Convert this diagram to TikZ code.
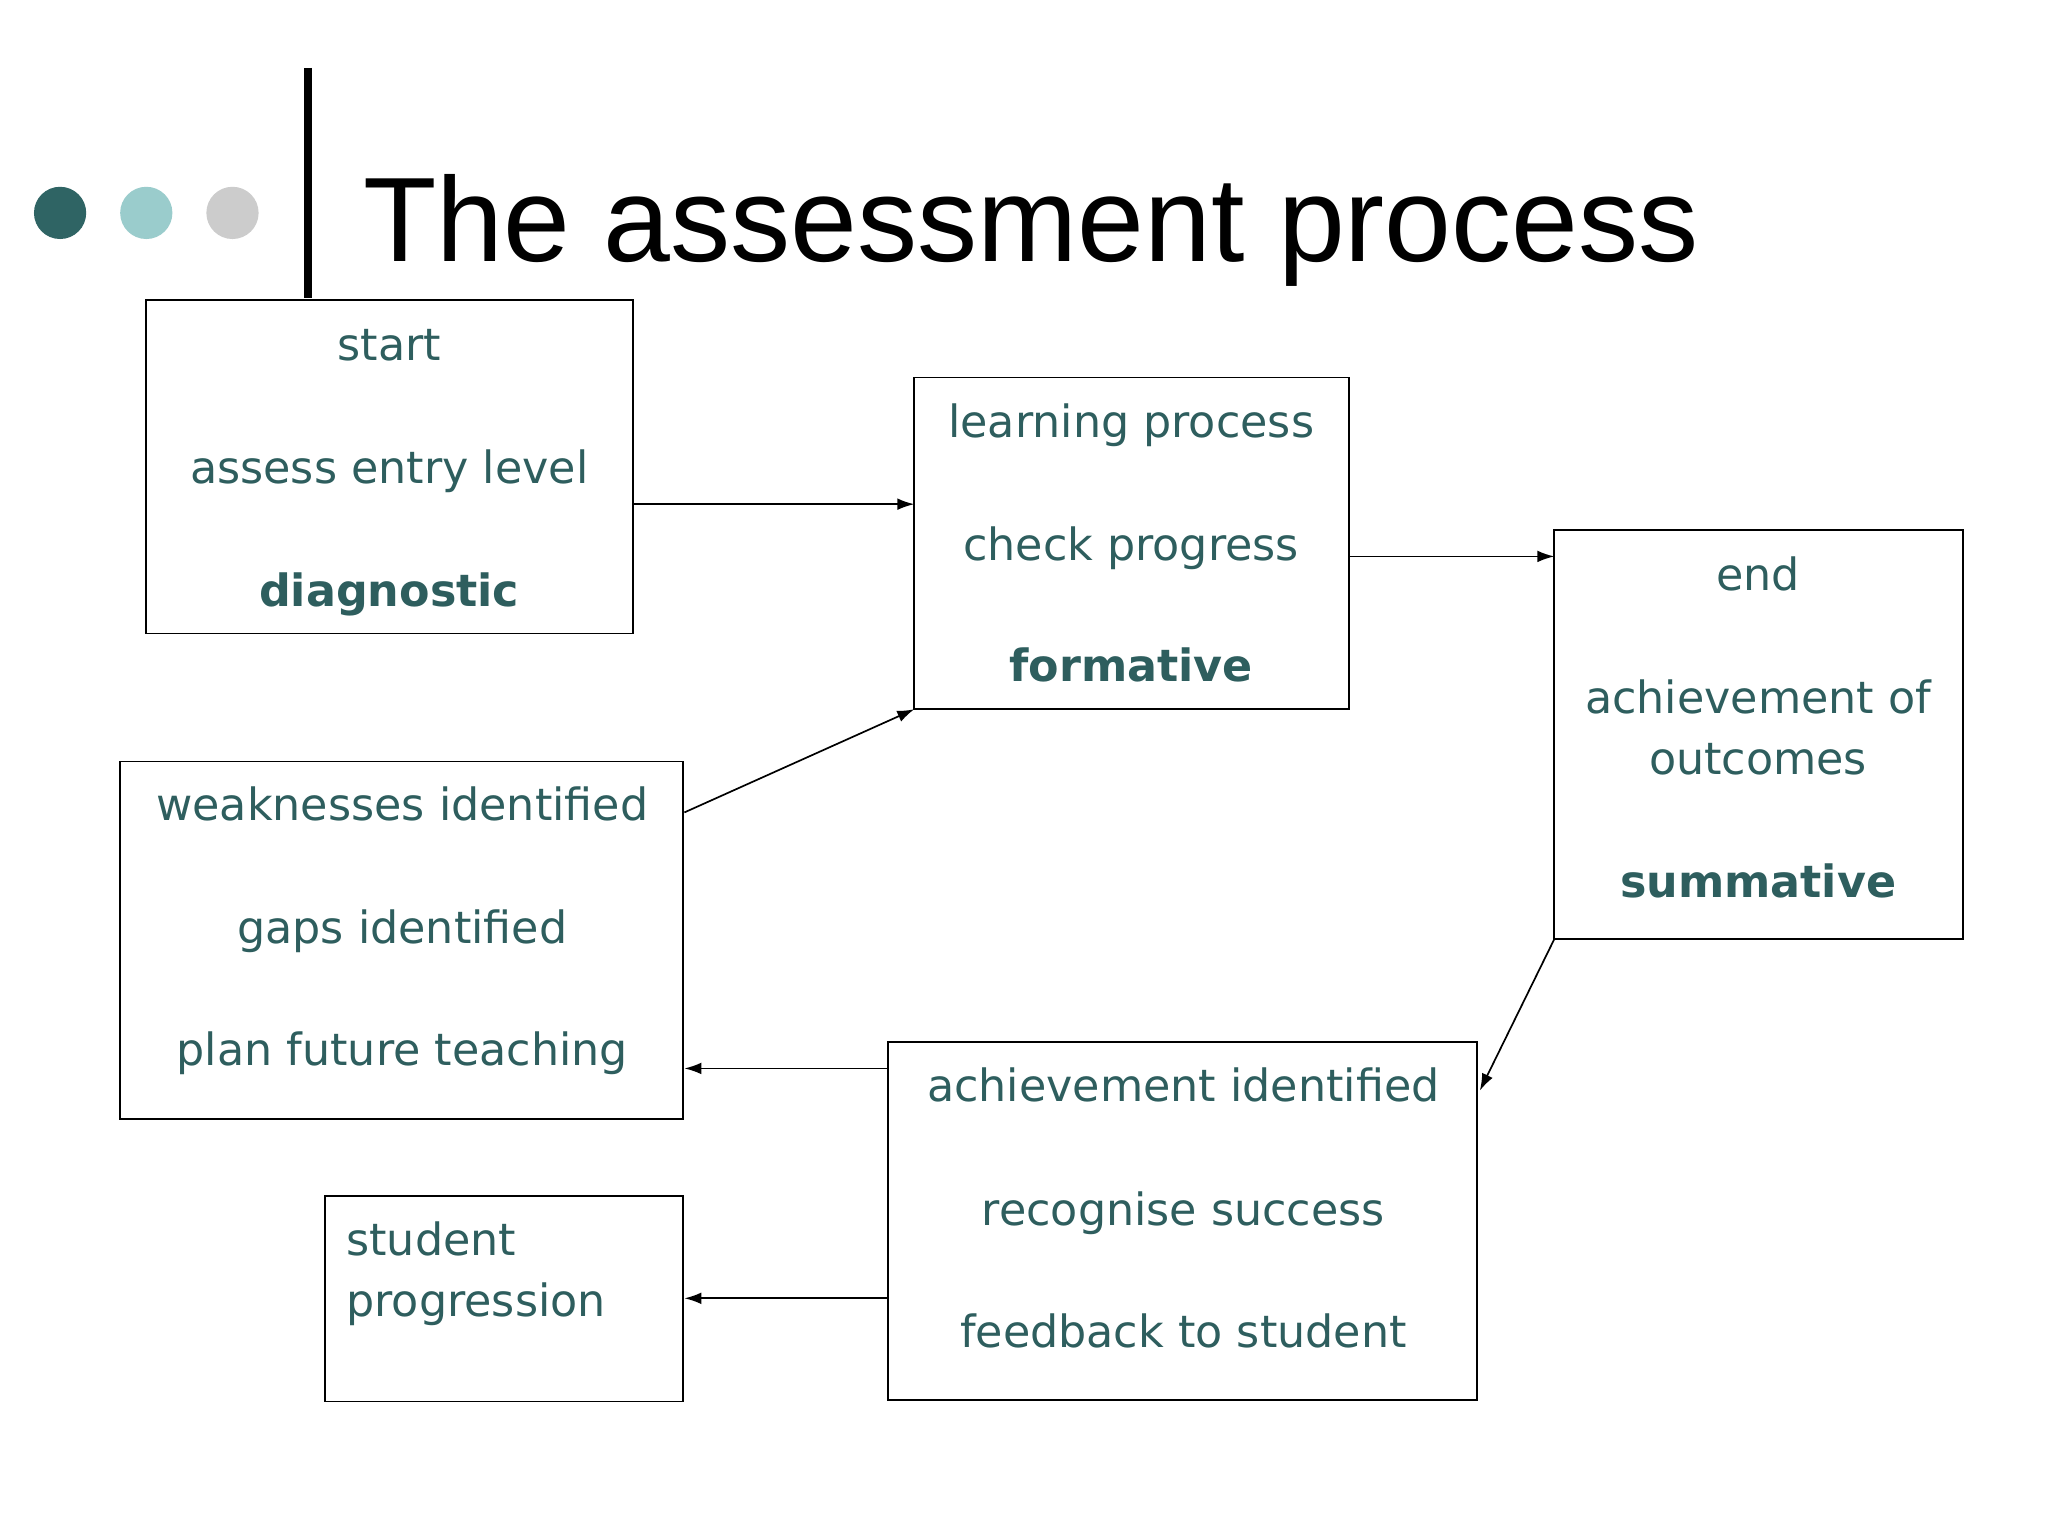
\documentclass[tikz,border=0pt]{standalone}
\usepackage{fontspec}
\setmainfont{DejaVu Sans}
\newfontfamily\titlefont{Liberation Sans}
\usetikzlibrary{arrows.meta}
\definecolor{teal1}{HTML}{2E5E5E}
\definecolor{dot1}{HTML}{2F6464}
\definecolor{dot2}{HTML}{9ACCCC}
\definecolor{dot3}{HTML}{CCCCCC}
\tikzset{
 box/.style={draw=black,line width=1.5pt},
 txt/.style={text=teal1,font=\fontsize{34}{40}\selectfont,inner sep=0pt,anchor=base},
 btxt/.style={txt,font=\fontsize{34}{40}\selectfont\bfseries},
 arr/.style={-{Latex[length=13pt,width=9pt]},line width=1.3pt}
}
\begin{document}
\begin{tikzpicture}[x=1pt,y=-1pt]
\useasboundingbox[fill=white] (0,0) rectangle (1568,1176);
\fill[dot1] (46,163) circle (20);
\fill[dot2] (112,163) circle (20);
\fill[dot3] (178,163) circle (20);
\draw[line width=6pt] (236,52) -- (236,228);
\node[anchor=base west,inner sep=0pt,font=\titlefont\fontsize{92}{106}\selectfont] (title) at (278,200) {The assessment process};
\draw[box] (112,230) rectangle (485,485);
\node[txt] (a1) at (298,276) {start};
\node[txt] (a2) at (298,370) {assess entry level};
\node[btxt] (a3) at (298,464) {diagnostic};
\draw[box] (700,289) rectangle (1033,543);
\node[txt] (b1) at (866,335) {learning process};
\node[txt] (b2) at (866,429) {check progress};
\node[btxt] (b3) at (866,522) {formative};
\draw[box] (1190,406) rectangle (1503,719);
\node[txt] (c1) at (1346,452) {end};
\node[txt] (c2) at (1346,546) {achievement of};
\node[txt] (c3) at (1346,593) {outcomes};
\node[btxt] (c4) at (1346,687) {summative};
\draw[box] (92,583) rectangle (523,857);
\node[txt] (d1) at (308,628) {weaknesses identified};
\node[txt] (d2) at (308,722) {gaps identified};
\node[txt] (d3) at (308,816) {plan future teaching};
\draw[box] (680,798) rectangle (1131,1072);
\node[txt] (e1) at (906,843) {achievement identified};
\node[txt] (e2) at (906,938) {recognise success};
\node[txt] (e3) at (906,1032) {feedback to student};
\draw[box] (249,916) rectangle (523,1073);
\node[txt,anchor=base west] (f1) at (265,961) {student};
\node[txt,anchor=base west] (f2) at (265,1008) {progression};
\coordinate (p1) at (485,386); \coordinate (p2) at (700,386);
\coordinate (p3) at (1033,426); \coordinate (p4) at (1190,426);
\coordinate (p5) at (524,622); \coordinate (p6) at (700,543);
\coordinate (p7) at (1190,719); \coordinate (p8) at (1133,835);
\coordinate (p9) at (680,818); \coordinate (p10) at (524,818);
\coordinate (p11) at (680,994); \coordinate (p12) at (524,994);
\draw[arr] (p1) -- (p2);
\draw[arr] (p3) -- (p4);
\draw[arr] (p5) -- (p6);
\draw[arr] (p7) -- (p8);
\draw[arr] (p9) -- (p10);
\draw[arr] (p11) -- (p12);
\end{tikzpicture}
\end{document}
